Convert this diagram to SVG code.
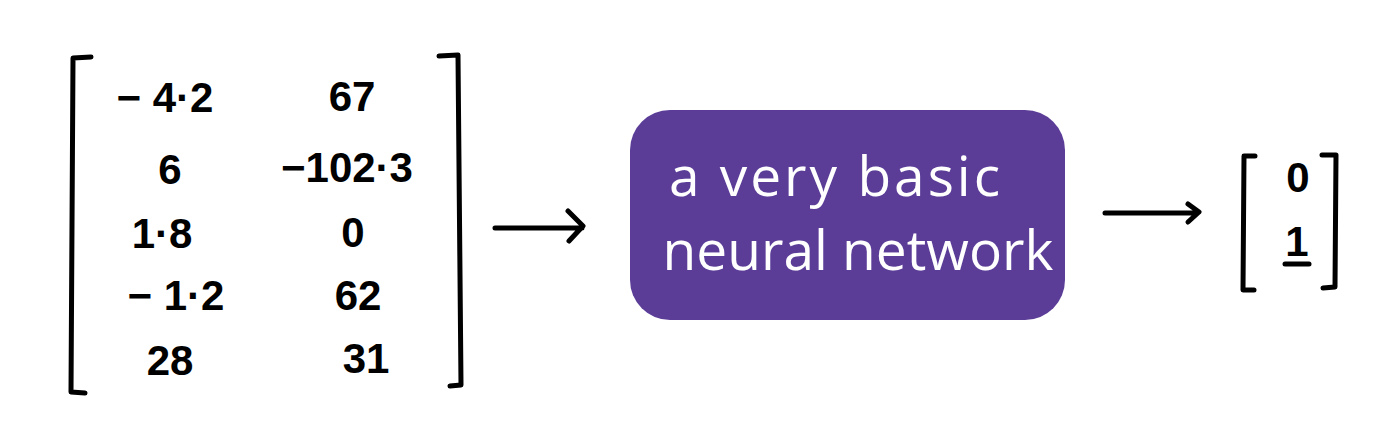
<svg xmlns="http://www.w3.org/2000/svg" width="1400" height="443" viewBox="0 0 1400 443">
<defs>
<style>
.br{fill:none;stroke:#000;stroke-width:5;stroke-linecap:round;stroke-linejoin:round}
.num{font-family:"Liberation Sans",Arial,sans-serif;font-size:42px;font-weight:bold;fill:#000;text-anchor:middle}
.lbl{font-family:"Open Sans","Liberation Sans",sans-serif;font-size:55px;fill:#fff;text-anchor:middle}
.arr{fill:none;stroke:#000;stroke-width:5;stroke-linecap:round;stroke-linejoin:round}
</style>
</defs>
<rect width="1400" height="443" fill="#fff"/>
<g id="input-matrix">
<path class="br" d="M91,57 L73,58 L71,392 L85,393"/>
<path class="br" d="M439,56 L458,55 L461,385 L450,386"/>
<text class="num" x="165" y="112">− 4·2</text>
<text class="num" x="352" y="111">67</text>
<text class="num" x="170" y="184">6</text>
<text class="num" x="347" y="182">−102·3</text>
<text class="num" x="162" y="248">1·8</text>
<text class="num" x="353" y="247">0</text>
<text class="num" x="176" y="310">− 1·2</text>
<text class="num" x="358" y="310">62</text>
<text class="num" x="170" y="375">28</text>
<text class="num" x="366" y="373">31</text>
</g>
<g id="network">
<rect x="630" y="110" width="435" height="210" rx="40" ry="40" fill="#5b3d98"/>
<text class="lbl" x="836" y="196" letter-spacing="3">a very basic</text>
<text class="lbl" x="858" y="270">neural network</text>
</g>
<g id="output-vector">
<path class="br" d="M1255,156 L1244,156 L1243,290 L1254,290"/>
<path class="br" d="M1322,155 L1336,155 L1335,287 L1323,288"/>
<text class="num" x="1298" y="192">0</text>
<text class="num" x="1297" y="256">1</text>
<path class="br" d="M1285,264 L1309,264" stroke-width="4"/>
</g>
<g id="connectors">
<path class="arr" d="M495,228 L582,228 M568,211 L583,226 L569,241"/>
<path class="arr" d="M1105,213 L1197,213 M1188,204 L1199,212 L1188,222"/>
</g>
</svg>
